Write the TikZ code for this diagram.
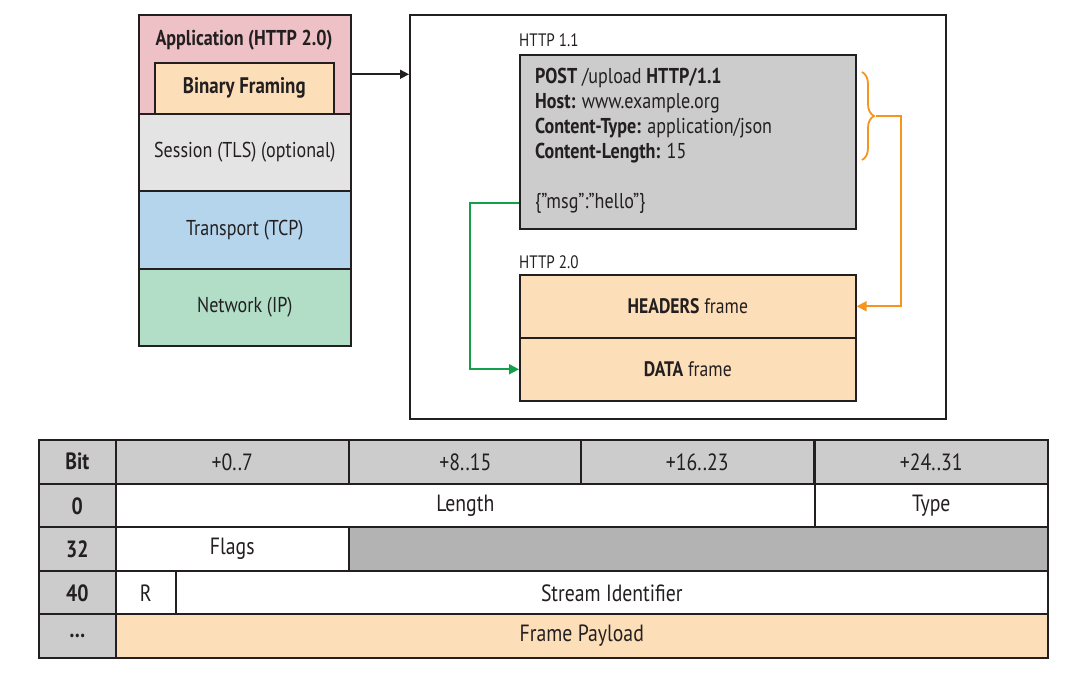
\documentclass[tikz,border=0pt]{standalone}
\usepackage{fontspec}
\setmainfont{PT Sans}[FakeStretch=0.84]
\usetikzlibrary{arrows.meta,decorations.pathreplacing,calc}
\definecolor{apppink}{HTML}{EDC1C5}
\definecolor{frameorange}{HTML}{FCDEB9}
\definecolor{sessgray}{HTML}{E4E4E4}
\definecolor{tcpblue}{HTML}{B4D5EC}
\definecolor{ipgreen}{HTML}{B2DDC6}
\definecolor{headgray}{HTML}{CCCCCC}
\definecolor{darkgray}{HTML}{B3B3B3}
\definecolor{linkorange}{HTML}{F7941D}
\definecolor{linkgreen}{HTML}{12A04B}
\definecolor{ink}{HTML}{231F20}
\tikzset{
    base/.style = { anchor=north west, inner sep=0pt, text=ink,
                    font=\fontsize{21.5}{25}\selectfont },
   layer/.style = { base, draw=ink, line width=1.6pt },
    cell/.style = { layer, minimum height=44, font=\fontsize{23.5}{26}\selectfont },
    head/.style = { cell, fill=headgray },
   label/.style = { anchor=west, inner sep=0pt, text=ink,
                    font=\fontsize{18}{20}\selectfont },
   arrow/.style = { line width=1.6pt, draw=ink,
                    -{Triangle[length=9pt,width=9pt]} },
    link/.style = { line width=1.8pt, -{Triangle[length=10pt,width=10pt]} },
}

\begin{document}
\begin{tikzpicture}[x=1pt,y=-1pt]
  \useasboundingbox (0,0) rectangle (1066,676);

  % protocol stack
  \node[layer, fill=apppink, minimum width=212, minimum height=99] (app) at (138,14) {};
  \node[base, anchor=center, font=\fontsize{21.5}{25}\selectfont\bfseries] (applbl) at (244,40) {Application (HTTP 2.0)};
  \node[layer, fill=frameorange, minimum width=179, minimum height=51,
        font=\fontsize{22.5}{25}\selectfont\bfseries] (binary) at (154,62) {Binary Framing};
  \node[layer, fill=sessgray, minimum width=212, minimum height=77] (session) at (138,113)
    {Session (TLS) (optional)};
  \node[layer, fill=tcpblue, minimum width=212, minimum height=78] (transport) at (138,190)
    {Transport (TCP)};
  \node[layer, fill=ipgreen, minimum width=212, minimum height=77] (network) at (138,268)
    {Network (IP)};

  % HTTP 1.1 vs HTTP 2.0
  \node[layer, minimum width=536, minimum height=404] (outer) at (409,14) {};
  \coordinate (arrstart) at ($(app.east)+(0,10)$);
  \draw[arrow] (arrstart) -- (arrstart -| outer.west);

  \node[label] (lbl11) at (519,40) {HTTP 1.1};
  \node[layer, fill=headgray, minimum width=336, minimum height=174] (post) at (519,54) {};
  \node[base, align=left] (hdrs) at (535,68)
    {\textbf{POST} /upload \textbf{HTTP/1.1}\\
     \textbf{Host:} www.example.org\\
     \textbf{Content-Type:} application/json\\
     \textbf{Content-Length:} 15};
  \node[base, anchor=west] (msg) at (535,203) {\{”msg”:”hello”\}};

  \node[label] (lbl20) at (519,262) {HTTP 2.0};
  \node[layer, fill=frameorange, minimum width=336, minimum height=63,
        font=\fontsize{21}{25}\selectfont] (headers) at (519,274) {\textbf{HEADERS} frame};
  \node[layer, fill=frameorange, minimum width=336, minimum height=63,
        font=\fontsize{21}{25}\selectfont] (data) at (519,337) {\textbf{DATA} frame};

  \draw[linkorange, line width=1.8pt, decorate, decoration={brace, amplitude=12pt}]
    (862,72) -- (862,160);
  \coordinate (bracetip) at (876,116);
  \draw[link, linkorange] (bracetip) -- ++(25,0) |- (headers.east);
  \draw[link, linkgreen] (post.west |- msg) -- ++(-49,0) |- (data.west);

  % frame layout table
  \node[head, minimum width=77] (hbit) at (38,439) {\bfseries Bit};
  \foreach \i/\x/\t in {1/115/{+0..7}, 2/348/{+8..15}, 3/580/{+16..23}, 4/814/{+24..31}}
    \node[head, minimum width=233] (h\i) at (\x,439) {\t};
  \foreach \i/\y/\t in {1/483/0, 2/526/32, 3/570/40, 4/613/{\ldots}}
    \node[head, minimum width=77] (r\i) at (38,\y) {\bfseries \t};
  \node[cell, fill=white, minimum width=699] (length) at (115,483) {Length};
  \node[cell, fill=white, minimum width=233] (type) at (814,483) {Type};
  \node[cell, fill=white, minimum width=233] (flags) at (115,526) {Flags};
  \node[cell, fill=darkgray, minimum width=699] (unused) at (348,526) {};
  \node[cell, fill=white, minimum width=60] (rbit) at (115,570) {R};
  \node[cell, fill=white, minimum width=872] (streamid) at (175,570) {Stream Identifier};
  \node[cell, fill=frameorange, minimum width=932] (payload) at (115,613) {Frame Payload};
\end{tikzpicture}
\end{document}
